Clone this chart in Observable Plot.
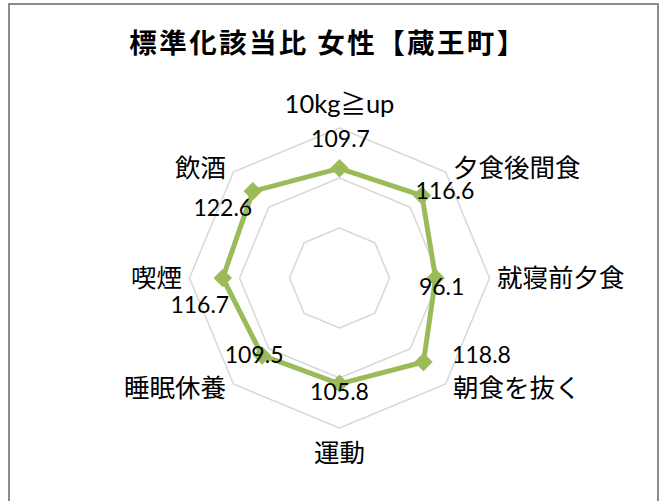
<!DOCTYPE html>
<html>
<head>
<meta charset="utf-8">
<script src="https://cdn.jsdelivr.net/npm/d3@7"></script>
<script src="https://cdn.jsdelivr.net/npm/@observablehq/plot@0.6"></script>
<style>
  body { margin: 0; background: #fff; }
  #wrap { position: relative; width: 667px; height: 501px; overflow: hidden; background: #fff; }
  #wrap svg { position: absolute; left: 0; top: 0; }
  #border { position: absolute; left: 8px; top: 3px; width: 651px; height: 640px; border: 2px solid #8c8c8c; box-sizing: border-box; pointer-events: none; }
</style>
</head>
<body>
<div id="wrap"><div id="border"></div></div>
<script>
// ---- data ----
const title = "標準化該当比 女性【蔵王町】";
const categories = ["10kg≧up", "夕食後間食", "就寝前夕食", "朝食を抜く", "運動", "睡眠休養", "喫煙", "飲酒"];
const values = [109.7, 116.6, 96.1, 118.8, 105.8, 109.5, 116.7, 122.6];
const ringTicks = [50, 100, 150];
const axisMax = 150;
// manual data-label nudges (px) as placed in the original chart
const valueLabelShift = [[1, -29], [23, -4], [6, 10], [58, -6.5], [0, 9], [-8, 0], [-23, 27.5], [-30, 17.5]];

// ---- layout ----
const W = 667, H = 501;
const CX = 339, CY = 277.5;   // centre of the radar in px
const R = 150;                // outer radius in px
const k = R / axisMax;        // px per unit
const n = categories.length;
const ang = i => 2 * Math.PI * i / n;
const px = (v, i) => k * v * Math.sin(ang(i));
const py = (v, i) => k * v * Math.cos(ang(i));

const rings = ringTicks.flatMap(t => categories.map((c, i) => ({ t, x: px(t, i), y: py(t, i) })));
const pts = values.map((v, i) => ({ cat: categories[i], v, x: px(v, i), y: py(v, i) }));
const valLabels = pts.map((p, i) => ({
  text: p.v.toFixed(1),
  x: p.x + valueLabelShift[i][0],
  y: p.y - valueLabelShift[i][1]
}));
const catLabels = categories.map((c, i) => {
  const s = Math.sin(ang(i)), co = Math.cos(ang(i));
  const side = Math.abs(s) < 0.1 ? "middle" : (s > 0 ? "start" : "end");
  const dx = side === "middle" ? 0 : Math.sign(s) * 7.5;
  const dy = side === "middle" ? co * 24.5 : co * 5.5; // upward in data units
  return { text: c, side, x: px(axisMax, i) + dx, y: py(axisMax, i) + dy };
});

const font = "Lato, 'Noto Sans CJK JP', sans-serif";
const catText = side => Plot.text(catLabels.filter(d => d.side === side), {
  x: "x", y: "y", text: "text", textAnchor: side, lineAnchor: "middle",
  fontSize: 25.5, fontFamily: font, fill: "#000", dy: 1
});

const chart = Plot.plot({
  width: W, height: H, margin: 0,
  style: { background: "transparent", overflow: "visible" },
  x: { domain: [-CX, W - CX], range: [0, W], axis: null },
  y: { domain: [-(H - CY), CY], range: [H, 0], axis: null },
  marks: [
    Plot.line(rings, { x: "x", y: "y", z: "t", curve: "linear-closed", stroke: "#d9d9d9", strokeWidth: 1.6 }),
    Plot.line(pts, { x: "x", y: "y", curve: "linear-closed", stroke: "#9bbb59", strokeWidth: 5, strokeLinejoin: "miter" }),
    Plot.dot(pts, { x: "x", y: "y", symbol: "diamond2", r: 8.3, fill: "#9bbb59", stroke: "none" }),
    Plot.text(valLabels, { x: "x", y: "y", text: "text", lineAnchor: "middle", fontSize: 23, fontFamily: font, fill: "#000" }),
    catText("middle"), catText("start"), catText("end"),
    Plot.text([title], { frameAnchor: "top", text: d => d, dx: -6, dy: 44, lineAnchor: "middle",
      fontSize: 27.5, fontWeight: "bold", fontFamily: "'Noto Sans CJK JP', sans-serif", fill: "#000" })
  ]
});
chart.querySelectorAll("text").forEach(t => {
  if (t.textContent === title) t.style.letterSpacing = "2.4px";
});
document.getElementById("wrap").insertBefore(chart, document.getElementById("border"));
</script>
</body>
</html>
